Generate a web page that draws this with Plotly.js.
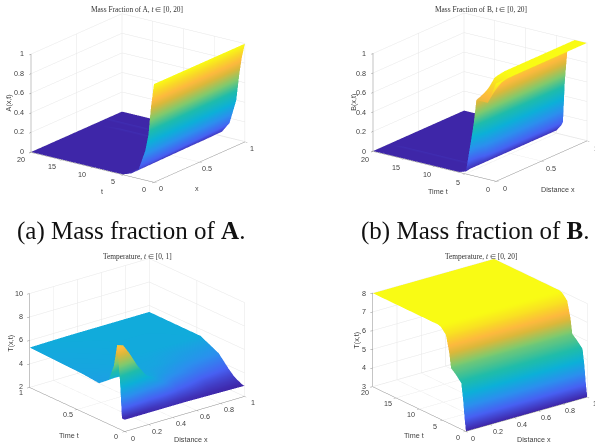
<!DOCTYPE html>
<html><head><meta charset="utf-8"><script src="https://cdn.plot.ly/plotly-3.0.1.min.js"></script>
<style>html,body{margin:0;padding:0;background:#fff}#c{width:595px;height:444px}</style></head>
<body><div id="c"></div><script>
// ---------- data ----------
var xTwo=[0,1];
var xA=[0,0.68,0.69,0.7,0.79,0.8,0.81,1];
var timeA=[0,0.5,0.9,1.4,2.5,3.7,5,10,13,15.7,19.5,20];
var fracA_x000=[1,0.75,0.47,0.3,0.09,0.03,0,0,0,0,0,0];
var fracA_x068=[1,0.82,0.61,0.37,0.13,0.04,0,0,0,0,0,0];
var fracA_x069=[1,0.82,0.61,0.37,0.13,0.04,0,0.02,0.02,0.02,0,0];
var fracA_x070=[1,0.82,0.61,0.37,0.13,0.04,0,0,0,0,0,0];
var fracA_x079=[1,0.83,0.63,0.38,0.14,0.04,0,0,0,0,0,0];
var fracA_x080=[1,0.83,0.63,0.38,0.14,0.04,0,0,0.02,0.02,0.02,0];
var fracA_x081=[1,0.83,0.63,0.38,0.14,0.04,0,0,0,0,0,0];
var fracA_x100=[1,0.85,0.68,0.4,0.15,0.045,0,0,0,0,0,0];

var xB=[0,0.05,0.1,0.15,0.157,0.165,0.23,1];
var timeB=[0,0.7,1.35,2,2.6,3.2,3.6,3.9,4.2,4.9,6,7.2,17.4,20];
var fracB_x000=[1,0.88,0.78,0.78,0.78,0.78,0.55,0.42,0.3,0.02,0,0,0,0];
var fracB_x005=[1,0.91,0.84,0.84,0.84,0.8,0.55,0.42,0.28,0.03,0,0,0,0];
var fracB_x010=[1,0.95,0.9,0.9,0.88,0.82,0.55,0.35,0.22,0.03,0,0,0,0];
var fracB_x015=[1,0.97,0.96,0.98,0.94,0.84,0.55,0.22,0.14,0.03,0,0,0,0];
var fracB_x016=[1,0.98,0.97,0.99,0.95,0.84,0.55,0.2,0.12,0.03,0,0.02,0.02,0];
var fracB_x017=[1,0.98,0.97,0.99,0.95,0.84,0.55,0.2,0.12,0.03,0,0,0,0];
var fracB_x023=[1,1,1,1,0.96,0.86,0.55,0.14,0.1,0.03,0,0,0,0];
var fracB_x100=[1,1,1,1,0.96,0.86,0.55,0.13,0.09,0.03,0,0,0,0];

var xC=[0,0.05,0.1,0.17,0.24,0.35,0.5,0.75,1];
var timeC=[0,0.03,0.05,0.08,0.115,0.167,0.27,0.46,1];
var tempC_x000=[3,3,6,9.07,7.16,5.83,5.1,5.25,5.4];
var tempC_x005=[3,3,5.5,8.9,7.5,5.9,5.12,5.27,5.41];
var tempC_x010=[3,3,5,8.1,7.2,5.9,5.15,5.28,5.42];
var tempC_x017=[3,3,4.3,6.8,6.3,5.6,5.2,5.3,5.43];
var tempC_x024=[3,3.1,3.8,5.8,5.6,5.4,5.25,5.32,5.44];
var tempC_x035=[3,3.3,3.8,5,5.2,5.3,5.3,5.35,5.45];
var tempC_x050=[3,3.1,3.4,3.9,4.4,4.9,5.25,5.4,5.45];
var tempC_x075=[2.95,3,3.1,3.3,3.6,4.2,4.9,5.4,5.45];
var tempC_x100=[2.9,2.95,3.05,3.16,3.35,3.75,4.67,5.43,5.45];

var timeD=[0,0.3,0.6,1,2.2,3.2,3.6,4.3,5.4,6,20];
var tempD=[3,3.7,4.6,5.46,5.78,6,6.8,7.65,7.95,8,8];

var xTicks12=[0,0.5,1], tTicks20=[0,5,10,15,20], zTicksFrac=[0,0.2,0.4,0.6,0.8,1];
var xTicks02=[0,0.2,0.4,0.6,0.8,1], tTicks1=[0,0.5,1], zTicksC=[2,4,6,8,10], zTicksD=[3,4,5,6,7,8];
var titles=['Mass Fraction of A, <i>t</i> ∈ [0, 20]','Mass Fraction of B, <i>t</i> ∈ [0, 20]','Temperature, <i>t</i> ∈ [0, 1]','Temperature, <i>t</i> ∈ [0, 20]'];
var captions=['(a) Mass fraction of <b>A</b>.','(b) Mass fraction of <b>B</b>.'];
var parula=[[0,'#3e26a8'],[0.125,'#4760f2'],[0.25,'#2b90ee'],[0.375,'#0cb0d8'],[0.5,'#1fbcab'],[0.625,'#7fca6e'],[0.75,'#dcb83a'],[0.82,'#fdb93e'],[0.9,'#f9d629'],[1,'#f9fb14']];
// ------------------------------------------------
var W=595,H=444,SF="'Liberation Sans',Arial,sans-serif",TF="'Liberation Serif',serif",INK='#404040';
function transpose(cols){return cols[0].map(function(_,i){return cols.map(function(c){return c[i];});});}
function surf(scene,x,y,z,cmin,cmax){return {type:'surface',scene:scene,x:x,y:y,z:z,cmin:cmin,cmax:cmax,colorscale:parula,showscale:false,
  lighting:{ambient:1,diffuse:0,specular:0,fresnel:0,roughness:1},hoverinfo:'skip',contours:{x:{show:false},y:{show:false},z:{show:false}}};}
var data=[
 surf('scene',xA,timeA,transpose([fracA_x000,fracA_x068,fracA_x069,fracA_x070,fracA_x079,fracA_x080,fracA_x081,fracA_x100]),0,1),
 surf('scene2',xB,timeB,transpose([fracB_x000,fracB_x005,fracB_x010,fracB_x015,fracB_x016,fracB_x017,fracB_x023,fracB_x100]),0,1),
 surf('scene3',xC,timeC,transpose([tempC_x000,tempC_x005,tempC_x010,tempC_x017,tempC_x024,tempC_x035,tempC_x050,tempC_x075,tempC_x100]),2.9,10),
 surf('scene4',xTwo,timeD,transpose([tempD,tempD]),3,8)
];
function ax(range,ticks){return {range:range,tickvals:ticks,showticklabels:false,title:{text:''},showgrid:true,gridcolor:'#e6e6e6',gridwidth:1,
  showline:true,linecolor:'#8a8a8a',linewidth:1,ticks:'outside',ticklen:3,tickcolor:'#8a8a8a',showbackground:false,zeroline:false,showspikes:false,autorange:false};}
function tickAnn(x,y,z,t,xs,ys,a){return {x:x,y:y,z:z,text:t,showarrow:false,xshift:xs,yshift:ys,xanchor:a||'center',yanchor:'middle',font:{family:SF,size:7.2,color:INK}};}
function labels(xT,tT,zT,xr,tr,zr,xName,tName,zName,o){
  var out=[];
  xT.forEach(function(v){out.push(tickAnn(v,tr[0],zr[0],String(v),o.xs[0],o.xs[1]));});
  tT.forEach(function(v){out.push(tickAnn(xr[0],v,zr[0],String(v),o.ts[0],o.ts[1]));});
  zT.forEach(function(v){out.push(tickAnn(xr[0],tr[1],v,String(v),-5,0,'right'));});
  out.push({x:o.xl[0],y:tr[0],z:zr[0],text:xName,showarrow:false,xshift:o.xl[1],yshift:o.xl[2],font:{family:SF,size:7.2,color:INK}});
  out.push({x:xr[0],y:o.tl[0],z:zr[0],text:tName,showarrow:false,xshift:o.tl[1],yshift:o.tl[2],font:{family:SF,size:7.2,color:INK}});
  out.push({x:xr[0],y:tr[1],z:(zr[0]+zr[1])/2,text:zName,showarrow:false,textangle:-90,xshift:o.zl[0],yshift:o.zl[1],font:{family:SF,size:7.2,color:INK}});
  return out;
}
function eye(azDeg,elDeg,r){var a=azDeg*Math.PI/180,e=elDeg*Math.PI/180;return {x:-Math.sin(a)*Math.cos(e)*r,y:-Math.cos(a)*Math.cos(e)*r,z:Math.sin(e)*r};}
function scene(cx,cy,az,el,zRatio,xr,tr,zr,xT,tT,zT,anns){
  var k=1.7;
  return {domain:{x:[(cx-110)/W,(cx+110)/W],y:[1-(cy+90)/H,1-(cy-90)/H]},
   aspectmode:'manual',aspectratio:{x:k,y:k,z:k*zRatio},
   camera:{eye:eye(az,el,1.5),center:{x:0,y:0,z:0},up:{x:0,y:0,z:1},projection:{type:'orthographic'}},
   xaxis:ax(xr,xT),yaxis:ax(tr,tT),zaxis:ax(zr,zT),annotations:anns,dragmode:false};
}
function paperNote(x,y,text,font,size,color){return {xref:'paper',yref:'paper',x:x/W,y:1-y/H,xanchor:'center',yanchor:'middle',text:text,showarrow:false,font:{family:font,size:size,color:color}};}
var layout={width:W,height:H,margin:{l:0,r:0,t:0,b:0},paper_bgcolor:'#fff',showlegend:false,
 scene:scene(137.85,97.5,53.5,19.2,0.68,[0,1],[-0.01,20],[-0.004,1],xTicks12,tTicks20,zTicksFrac,
   labels(xTicks12,tTicks20,zTicksFrac,[0,1],[0,20],[0,1],'x','t','A(x,t)',{xs:[7.5,-7.5],ts:[-10,-8],xl:[0.5,-2,-27],tl:[10,10,-25],zl:[-22,0]})),
 scene2:scene(480.3,97.3,53.5,19.2,0.68,[0,1],[0,20],[-0.004,1.004],xTicks12,tTicks20,zTicksFrac,
   labels(xTicks12,tTicks20,zTicksFrac,[0,1],[0,20],[0,1],'Distance x','Time t','B(x,t)',{xs:[9,-7.5],ts:[-8,-8.5],xl:[0.5,16,-28],tl:[10,3,-25],zl:[-20,0]})),
 scene3:scene(137.2,344.5,38.5,21.6,0.66,[0,1],[0,1],[2,10],xTicks02,tTicks1,zTicksC,
   labels(xTicks02,tTicks1,zTicksC,[0,1],[0,1],[2,10],'Distance x','Time t','T(x,t)',{xs:[8,-7],ts:[-9,-5.5],xl:[0.5,6,-26],tl:[0.5,-8,-27],zl:[-19,-3]})),
 scene4:scene(480,345,37.5,21.6,0.66,[0,1],[0,20],[2.99,8.02],xTicks02,tTicks20,zTicksD,
   labels(xTicks02,tTicks20,zTicksD,[0,1],[0,20],[3,8],'Distance x','Time t','T(x,t)',{xs:[7.5,-7],ts:[-8,-6],xl:[0.5,7,-25],tl:[10,-5,-27],zl:[-16,0]})),
 annotations:[
  paperNote(137,9,titles[0],TF,7.4,'#333'),
  paperNote(481,9,titles[1],TF,7.4,'#333'),
  paperNote(137,256,titles[2],TF,7.4,'#333'),
  paperNote(481,256,titles[3],TF,7.4,'#333'),
  paperNote(131,231,captions[0],TF,25,'#111'),
  paperNote(475,231,captions[1],TF,25,'#111')
 ]};
Plotly.newPlot('c',data,layout,{displayModeBar:false,scrollZoom:false});
</script></body></html>
